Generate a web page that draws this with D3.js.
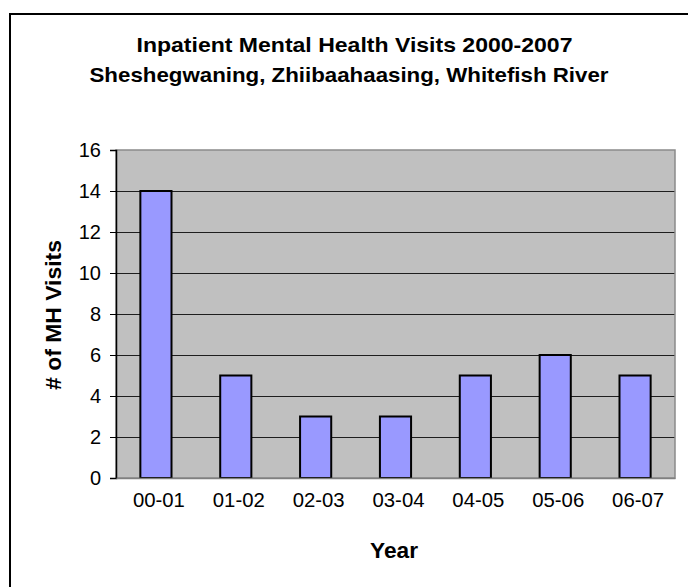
<!DOCTYPE html>
<html>
<head>
<meta charset="utf-8">
<script src="https://cdn.jsdelivr.net/npm/d3@7"></script>
<style>
  body { margin: 0; background: #fff; }
  svg { display: block; font-family: "Liberation Sans", Arial, Helvetica, sans-serif; }
</style>
</head>
<body>
<svg width="688" height="587"></svg>
<script>
const years = ['00-01', '01-02', '02-03', '03-04', '04-05', '05-06', '06-07'];
const visits = [14, 5, 3, 3, 5, 6, 5];
const yTicks = [0, 2, 4, 6, 8, 10, 12, 14, 16];
const titleLines = ['Inpatient Mental Health Visits 2000-2007', 'Sheshegwaning, Zhiibaahaasing, Whitefish River'];

const svg = d3.select('svg');
const plot = { left: 116, right: 675, top: 150, bottom: 478 };
const font = '"Liberation Sans", Arial, Helvetica, sans-serif';

// outer chart frame (right/bottom edges run off the picture)
svg.append('rect')
  .attr('x', 10).attr('y', 14)
  .attr('width', 720).attr('height', 620)
  .attr('fill', 'none').attr('stroke', '#000').attr('stroke-width', 2);

// title, two lines
svg.append('text')
  .attr('x', 136.5).attr('y', 52)
  .attr('textLength', 436).attr('lengthAdjust', 'spacingAndGlyphs')
  .attr('font-size', 21).attr('font-weight', 'bold')
  .text(titleLines[0]);
svg.append('text')
  .attr('x', 89.5).attr('y', 82)
  .attr('textLength', 519).attr('lengthAdjust', 'spacingAndGlyphs')
  .attr('font-size', 21).attr('font-weight', 'bold')
  .text(titleLines[1]);

const x = d3.scaleBand()
  .domain(years)
  .range([plot.left, plot.right])
  .paddingInner(0.61)
  .paddingOuter(0.305);

const y = d3.scaleLinear()
  .domain([0, 16])
  .range([plot.bottom, plot.top]);

// plot background
svg.append('rect')
  .attr('x', plot.left).attr('y', plot.top)
  .attr('width', plot.right - plot.left).attr('height', plot.bottom - plot.top)
  .attr('fill', '#c0c0c0');

// gridlines
svg.append('g')
  .selectAll('line')
  .data(yTicks.filter(t => t > 0 && t < 16))
  .join('line')
  .attr('x1', plot.left).attr('x2', plot.right)
  .attr('y1', d => Math.round(y(d)) + 0.5).attr('y2', d => Math.round(y(d)) + 0.5)
  .attr('stroke', '#1e1e1e').attr('stroke-width', 1.2);

// plot border (gray)
svg.append('rect')
  .attr('x', plot.left).attr('y', plot.top)
  .attr('width', plot.right - plot.left).attr('height', plot.bottom - plot.top)
  .attr('fill', 'none').attr('stroke', '#8a8a8a').attr('stroke-width', 1.5);

// bars
svg.append('g')
  .selectAll('rect')
  .data(years)
  .join('rect')
  .attr('x', d => x(d))
  .attr('y', (d, i) => y(visits[i]))
  .attr('width', x.bandwidth())
  .attr('height', (d, i) => y(0) - y(visits[i]))
  .attr('fill', '#9999ff')
  .attr('stroke', '#000')
  .attr('stroke-width', 2);

// y axis
const yAxis = svg.append('g')
  .attr('transform', `translate(${plot.left},0)`)
  .call(d3.axisLeft(y).tickValues(yTicks).tickSize(6).tickPadding(9));
yAxis.select('.domain').attr('stroke', '#000').attr('stroke-width', 1.5);
yAxis.selectAll('.tick line').attr('stroke', '#000');
yAxis.selectAll('.tick text')
  .attr('font-size', 20).attr('fill', '#000')
  .attr('font-family', font);

// x axis (no tick marks)
const xAxis = svg.append('g')
  .attr('transform', `translate(0,${plot.bottom})`)
  .call(d3.axisBottom(x).tickSize(0).tickPadding(0));
xAxis.select('.domain').attr('stroke', '#808080').attr('stroke-width', 1.5);
xAxis.selectAll('.tick text')
  .attr('font-size', 20).attr('fill', '#000')
  .attr('font-family', font)
  .attr('dy', null)
  .attr('x', 3)
  .attr('y', 29)
  .attr('textLength', 52).attr('lengthAdjust', 'spacingAndGlyphs');

// axis titles
svg.append('text')
  .attr('x', 394).attr('y', 558)
  .attr('text-anchor', 'middle')
  .attr('textLength', 48).attr('lengthAdjust', 'spacingAndGlyphs')
  .attr('font-size', 22).attr('font-weight', 'bold')
  .text('Year');

svg.append('text')
  .attr('transform', 'translate(61,315) rotate(-90)')
  .attr('text-anchor', 'middle')
  .attr('textLength', 150).attr('lengthAdjust', 'spacingAndGlyphs')
  .attr('font-size', 22).attr('font-weight', 'bold')
  .text('# of MH Visits');
</script>
</body>
</html>
